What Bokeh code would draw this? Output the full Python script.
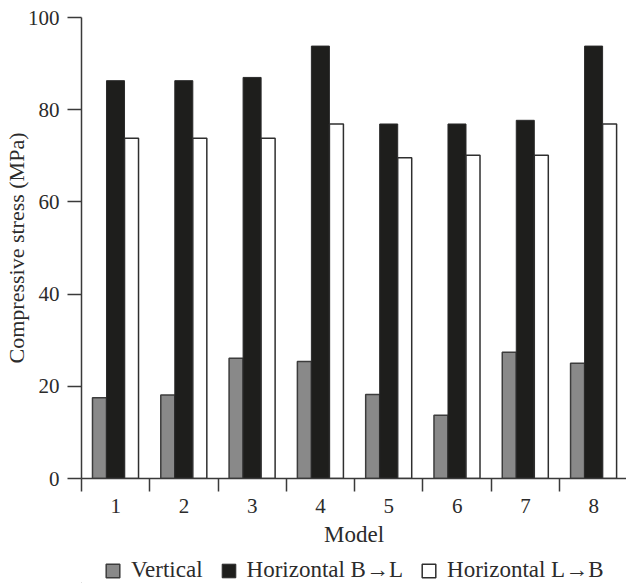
import numpy as np
from bokeh.plotting import figure
from bokeh.layouts import column
from bokeh.models import Range1d, FixedTicker, Legend, LegendItem, ColumnDataSource
from bokeh.embed import file_html
from bokeh.resources import INLINE

categories = ["1", "2", "3", "4", "5", "6", "7", "8"]
vertical = [17.5, 18.1, 26.1, 25.4, 18.2, 13.7, 27.4, 25.0]
horiz_bl = [86.3, 86.3, 87.0, 93.8, 76.9, 76.9, 77.7, 93.8]
horiz_lb = [73.8, 73.8, 73.8, 76.9, 69.6, 70.1, 70.1, 76.9]
y_ticks = [0, 20, 40, 60, 80, 100]
series_names = ["Vertical", "Horizontal B\u2192L", "Horizontal L\u2192B"]

FONT = "Liberation Serif"
TXT = "#2b2b2b"
AX = "#3a3a3a"
STYLES = [
    dict(fill_color="#898989", line_color="#3c3c3c", line_width=1.5),
    dict(fill_color="#1e1e1c", line_color="#2a2a2a", line_width=1.0),
    dict(fill_color="#ffffff", line_color="#2f2f2f", line_width=1.5),
]

idx = np.arange(len(categories))
src = ColumnDataSource(dict(
    x_v=idx + 0.2635, x_b=idx + 0.498, x_w=idx + 0.7325,
    vertical=vertical, horiz_bl=horiz_bl, horiz_lb=horiz_lb,
))

p = figure(width=626, height=553, x_range=Range1d(0, 7.98), y_range=Range1d(0, 100),
           output_backend="svg", toolbar_location=None,
           min_border_top=17, min_border_right=0, min_border_left=81, min_border_bottom=75)

p.vbar(x="x_v", top="vertical", width=0.205, bottom=0, source=src, **STYLES[0])
p.vbar(x="x_b", top="horiz_bl", width=0.264, bottom=0, source=src, **STYLES[1])
p.vbar(x="x_w", top="horiz_lb", width=0.205, bottom=0, source=src, **STYLES[2])

p.grid.visible = False
p.outline_line_color = None
p.background_fill_color = "white"
p.border_fill_color = "white"

# x axis
xa = p.xaxis[0]
xa.ticker = FixedTicker(ticks=list(idx + 0.5), minor_ticks=list(range(len(categories) + 1)))
xa.major_label_overrides = {float(i + 0.5): c for i, c in enumerate(categories)}
xa.major_tick_line_color = None
xa.minor_tick_in = 0
xa.minor_tick_out = 13
xa.minor_tick_line_color = AX
xa.minor_tick_line_width = 1.5
xa.axis_line_color = AX
xa.axis_line_width = 1.5
xa.axis_label = "Model"
xa.axis_label_text_font = FONT
xa.axis_label_text_font_size = "23px"
xa.axis_label_text_font_style = "normal"
xa.axis_label_text_color = TXT
xa.axis_label_standoff = 6
xa.major_label_text_font = FONT
xa.major_label_text_font_size = "21px"
xa.major_label_text_color = TXT
xa.major_label_standoff = 7

# y axis
ya = p.yaxis[0]
ya.ticker = FixedTicker(ticks=y_ticks)
ya.minor_tick_line_color = None
ya.major_tick_in = 0
ya.major_tick_out = 14
ya.major_tick_line_color = AX
ya.major_tick_line_width = 1.5
ya.axis_line_color = AX
ya.axis_line_width = 1.5
ya.axis_label = "Compressive stress (MPa)"
ya.axis_label_text_font = FONT
ya.axis_label_text_font_size = "22px"
ya.axis_label_text_font_style = "normal"
ya.axis_label_text_color = TXT
ya.axis_label_standoff = -4
ya.major_label_text_font = FONT
ya.major_label_text_font_size = "21px"
ya.major_label_text_color = TXT
ya.major_label_standoff = 8

# legend strip below the chart (swatch renderers sit outside the visible range)
lg = figure(width=626, height=30, x_range=Range1d(0, 1), y_range=Range1d(0, 1),
            output_backend="svg", toolbar_location=None,
            x_axis_type=None, y_axis_type=None, min_border=0)
lg.grid.visible = False
lg.outline_line_color = None
swatches = [lg.vbar(x=[-5], top=[-4], bottom=-5, width=0.1, **st) for st in STYLES]

legend = Legend(items=[LegendItem(label=n, renderers=[r]) for n, r in zip(series_names, swatches)],
                orientation="horizontal", location=(23, 0))
legend.label_text_font = FONT
legend.label_text_font_size = "23px"
legend.label_text_color = TXT
legend.glyph_width = 17
legend.glyph_height = 17
legend.label_standoff = 10
legend.spacing = 17
legend.padding = 0
legend.margin = 0
legend.border_line_color = None
legend.background_fill_alpha = 0
lg.add_layout(legend)

layout = column(p, lg, spacing=0)
open("out.html", "w").write(file_html(layout, INLINE))
